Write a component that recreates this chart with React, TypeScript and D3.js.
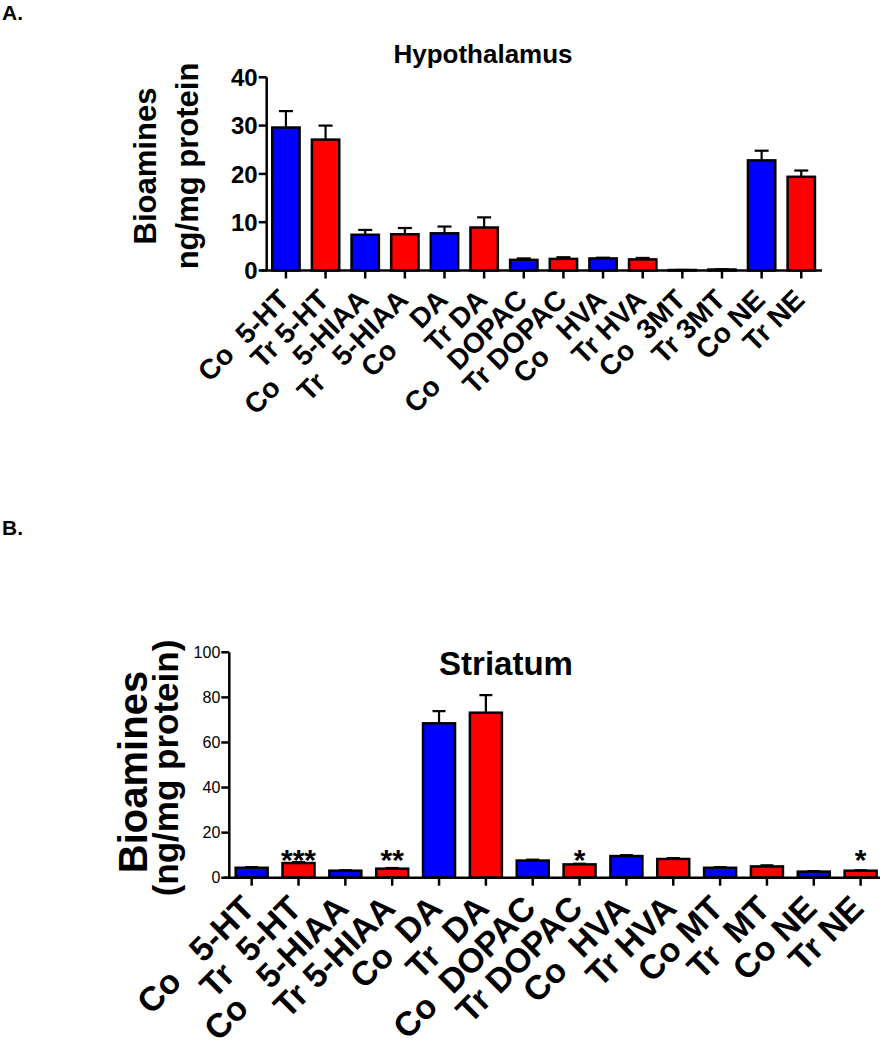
import React from "react";
import * as d3 from "d3";

// ---------- Data ----------
const hypoLabels = [
  "Co  5-HT", "Tr 5-HT", "Co    5-HIAA", "Tr   5-HIAA", "Co    DA", "Tr DA",
  "Co   DOPAC", "Tr DOPAC", "Co   HVA", "Tr HVA", "Co  3MT", "Tr 3MT", "Co NE", "Tr NE",
];
const hypoMeans = [29.6, 27.1, 7.4, 7.5, 7.7, 8.9, 2.2, 2.4, 2.5, 2.3, 0.1, 0.2, 22.8, 19.4];
const hypoSEM = [3.4, 2.9, 1.0, 1.3, 1.4, 2.1, 0.3, 0.35, 0.15, 0.3, 0.02, 0.05, 2.0, 1.3];
const hypoTicks = [0, 10, 20, 30, 40];

const striLabels = [
  "Co   5-HT", "Tr  5-HT", "Co   5-HIAA", "Tr 5-HIAA", "Co  DA", "Tr  DA",
  "Co  DOPAC", "Tr DOPAC", "Co  HVA", "Tr HVA", "Co MT", "Tr  MT", "Co NE", "Tr NE",
];
const striMeans = [4.4, 6.5, 3.1, 4.0, 68.5, 73.2, 7.6, 5.9, 9.6, 8.3, 4.4, 5.0, 2.7, 3.1];
const striSEM = [0.3, 0.4, 0.2, 0.3, 5.4, 7.8, 0.4, 0.3, 0.4, 0.4, 0.3, 0.5, 0.2, 0.2];
const striSig = ["", "***", "", "**", "", "", "", "*", "", "", "", "", "", "*"];
const striSigLevel = 8.7; // height (data units) of the significance marks
const striTicks = [0, 20, 40, 60, 80, 100];

const groupColors = ["#0000FF", "#FF0000"];
const FONT = "Arial, 'Liberation Sans', Helvetica, sans-serif";

// ---------- Panel ----------
type PanelProps = {
  labels: string[];
  means: number[];
  sems: number[];
  sig?: string[];
  sigLevel?: number;
  ticks: number[];
  yMax: number;
  xRange: [number, number];
  yRange: [number, number];
  padInner: number;
  padOuter: number;
  axisX: number;
  axisEnd: number;
  title: string;
  titleX: number;
  titleY: number;
  titleSize: number;
  tickFont: number;
  tickWeight: string;
  labelFont: number;
  labelDx: number;
  labelDy: number;
  yTitle: string[];
  yTitleX: number[];
  yTitleY: number[];
  yTitleSize: number[];
  capW: number;
  sigSize: number;
};

function Panel(p: PanelProps) {
  const x = d3
    .scaleBand<string>()
    .domain(p.labels.map((_, i) => String(i)))
    .range(p.xRange)
    .paddingInner(p.padInner)
    .paddingOuter(p.padOuter);
  const y = d3.scaleLinear().domain([0, p.yMax]).range(p.yRange);
  const y0 = y(0);
  const bw = x.bandwidth();
  return (
    <g fontFamily={FONT}>
      <text x={p.titleX} y={p.titleY} textAnchor="middle" fontWeight="bold" fontSize={p.titleSize}>
        {p.title}
      </text>
      {p.yTitle.map((t, i) => (
        <text
          key={t}
          transform={`translate(${p.yTitleX[i]},${p.yTitleY[i]}) rotate(-90)`}
          textAnchor="middle"
          fontWeight="bold"
          fontSize={p.yTitleSize[i]}
        >
          {t}
        </text>
      ))}
      {/* bars */}
      {p.means.map((m, i) => {
        const xi = x(String(i))!;
        const cx = xi + bw / 2;
        const top = y(m + p.sems[i]);
        return (
          <g key={i}>
            <line x1={cx} x2={cx} y1={y(m)} y2={top} stroke="#000" strokeWidth={2.2} />
            <line x1={cx - p.capW / 2} x2={cx + p.capW / 2} y1={top} y2={top} stroke="#000" strokeWidth={2.2} />
            <rect
              x={xi}
              y={y(m)}
              width={bw}
              height={y0 - y(m)}
              fill={groupColors[i % 2]}
              stroke="#000"
              strokeWidth={2.5}
            />
          </g>
        );
      })}
      {/* y axis */}
      <line x1={p.axisX} x2={p.axisX} y1={y(p.yMax)} y2={y0} stroke="#000" strokeWidth={2.5} />
      {p.ticks.map((t) => (
        <g key={t}>
          <line x1={p.axisX - 8} x2={p.axisX} y1={y(t)} y2={y(t)} stroke="#000" strokeWidth={2.5} />
          <text
            x={p.axisX - 9}
            y={y(t)}
            dy="0.36em"
            textAnchor="end"
            fontSize={p.tickFont}
            fontWeight={p.tickWeight}
          >
            {t}
          </text>
        </g>
      ))}
      {/* x axis */}
      <line x1={p.axisX - 5} x2={p.axisEnd} y1={y0} y2={y0} stroke="#000" strokeWidth={2.5} />
      {p.labels.map((l, i) => {
        const cx = x(String(i))! + bw / 2;
        return (
          <g key={i}>
            <line x1={cx} x2={cx} y1={y0} y2={y0 + 8} stroke="#000" strokeWidth={2.5} />
            <text
              transform={`translate(${cx + p.labelDx},${y0 + p.labelDy}) rotate(-45)`}
              textAnchor="end"
              fontWeight="bold"
              fontSize={p.labelFont}
              xmlSpace="preserve"
              style={{ whiteSpace: "pre" }}
            >
              {l}
            </text>
          </g>
        );
      })}
      {p.sig &&
        p.sig.map((s, i) =>
          s ? (
            <text
              key={"s" + i}
              x={x(String(i))! + bw / 2}
              y={y(p.sigLevel ?? 0) + 0.39 * p.sigSize}
              textAnchor="middle"
              fontWeight="bold"
              fontSize={p.sigSize}
            >
              {s}
            </text>
          ) : null
        )}
    </g>
  );
}

export default function App() {
  return (
    <div style={{ position: "absolute", left: 0, top: 0 }}>
      <svg width={886} height={1050} style={{ display: "block", background: "#fff" }}>
        <text x={2} y={20} fontFamily={FONT} fontWeight="bold" fontSize={21}>
          A.
        </text>
        <text x={2} y={535} fontFamily={FONT} fontWeight="bold" fontSize={21}>
          B.
        </text>
        <Panel
          labels={hypoLabels}
          means={hypoMeans}
          sems={hypoSEM}
          ticks={hypoTicks}
          yMax={40}
          xRange={[266.7, 820.5]}
          yRange={[270.5, 77.3]}
          padInner={0.31}
          padOuter={0.14}
          axisX={266.7}
          axisEnd={822}
          title="Hypothalamus"
          titleX={483}
          titleY={63}
          titleSize={26}
          tickFont={24}
          tickWeight="bold"
          labelFont={28}
          labelDx={5}
          labelDy={31}
          yTitle={["Bioamines", "ng/mg protein"]}
          yTitleX={[156, 198]}
          yTitleY={[166, 166]}
          yTitleSize={[31, 31]}
          capW={14}
          sigSize={28}
        />
        <Panel
          labels={striLabels}
          means={striMeans}
          sems={striSEM}
          sig={striSig}
          sigLevel={striSigLevel}
          ticks={striTicks}
          yMax={100}
          xRange={[229.3, 883]}
          yRange={[877.7, 652.3]}
          padInner={0.317}
          padOuter={0.136}
          axisX={229.3}
          axisEnd={880}
          title="Striatum"
          titleX={506}
          titleY={675}
          titleSize={33}
          tickFont={16}
          tickWeight="normal"
          labelFont={34}
          labelDx={5}
          labelDy={32.5}
          yTitle={["Bioamines", "(ng/mg protein)"]}
          yTitleX={[147, 178]}
          yTitleY={[772, 768]}
          yTitleSize={[40, 35]}
          capW={13}
          sigSize={30}
        />
      </svg>
    </div>
  );
}
